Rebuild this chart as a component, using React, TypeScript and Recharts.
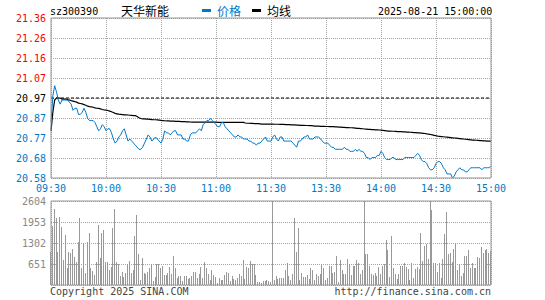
import React from 'react';
import { LineChart, Line, BarChart, Bar, XAxis, YAxis, CartesianGrid, ReferenceLine } from 'recharts';

const MONO = '"DejaVu Sans Mono", "Liberation Mono", monospace';
const CJK = '"Noto Sans CJK SC", sans-serif';
const RED = '#ff0000';
const BLUE = '#0078c8';
const GRAY = '#999999';
const GRID = '#a4a4a4';

const code = 'sz300390';
const stockName = '天华新能';
const legendNames = ['价格', '均线'];
const stamp = '2025-08-21 15:00:00';
const copyright = 'Copyright 2025 SINA.COM';
const siteUrl = 'http://finance.sina.com.cn';

const prevClose = 20.97;
const priceMax = 21.36;
const priceMin = 20.58;
const priceLabels = ['21.36', '21.26', '21.16', '21.07', '20.97', '20.87', '20.77', '20.68', '20.58'];
const pctLabels = ['+1.86%', '+1.39%', '+0.93%', '+0.46%', '0.00%', '-0.46%', '-0.93%', '-1.39%', '-1.86%'];
const volMax = 2604;
const volTicks = [651, 1302, 1953, 2604];
const volLabels = ['651', '1302', '1953', '2604'];
const timeTicks = [0, 30, 60, 90, 120, 150, 180, 210, 240];
const timeLabels = ['09:30', '10:00', '10:30', '11:00', '11:30', '13:30', '14:00', '14:30', '15:00'];

const price = [
  20.85, 20.98, 21.03, 21.0, 20.96, 20.94, 20.96, 20.96, 20.96, 20.96,
  20.95, 20.94, 20.91, 20.92, 20.92, 20.89, 20.89, 20.9, 20.92, 20.9,
  20.87, 20.86, 20.86, 20.86, 20.85, 20.83, 20.81, 20.82, 20.84, 20.83,
  20.81, 20.82, 20.82, 20.8, 20.77, 20.75, 20.76, 20.78, 20.79, 20.81,
  20.82, 20.79, 20.76, 20.77, 20.76, 20.75, 20.74, 20.73, 20.72, 20.72,
  20.73, 20.75, 20.77, 20.79, 20.78, 20.76, 20.77, 20.78, 20.77, 20.76,
  20.75, 20.77, 20.81, 20.8, 20.8, 20.79, 20.8, 20.81, 20.81, 20.79,
  20.79, 20.79, 20.77, 20.77, 20.76, 20.76, 20.79, 20.8, 20.8, 20.8,
  20.81, 20.82, 20.81, 20.84, 20.85, 20.86, 20.86, 20.87, 20.86, 20.85,
  20.84, 20.83, 20.83, 20.85, 20.85, 20.83, 20.82, 20.81, 20.8, 20.79,
  20.78, 20.78, 20.79, 20.78, 20.78, 20.77, 20.77, 20.77, 20.76, 20.76,
  20.75, 20.75, 20.74, 20.75, 20.75, 20.76, 20.77, 20.78, 20.76, 20.76,
  20.76, 20.78, 20.79, 20.77, 20.76, 20.78, 20.78, 20.76, 20.76, 20.76,
  20.76, 20.76, 20.75, 20.74, 20.73, 20.76, 20.76, 20.77, 20.78, 20.78,
  20.79, 20.77, 20.77, 20.77, 20.78, 20.78, 20.78, 20.77, 20.76, 20.75,
  20.75, 20.75, 20.74, 20.73, 20.73, 20.72, 20.72, 20.72, 20.72, 20.72,
  20.73, 20.72, 20.72, 20.71, 20.71, 20.71, 20.72, 20.71, 20.72, 20.71,
  20.71, 20.7, 20.68, 20.68, 20.67, 20.68, 20.68, 20.68, 20.69, 20.69,
  20.71, 20.7, 20.68, 20.67, 20.67, 20.67, 20.68, 20.68, 20.67, 20.67,
  20.67, 20.67, 20.67, 20.68, 20.68, 20.68, 20.68, 20.68, 20.68, 20.69,
  20.7, 20.69, 20.67, 20.66, 20.66, 20.65, 20.63, 20.62, 20.62, 20.63,
  20.65, 20.66, 20.66, 20.65, 20.63, 20.62, 20.6, 20.6, 20.6, 20.58,
  20.59, 20.61, 20.62, 20.63, 20.62, 20.62, 20.61, 20.61, 20.62, 20.63,
  20.63, 20.63, 20.63, 20.63, 20.63, 20.62, 20.63, 20.63, 20.63, 20.63,
  20.64,
];

const avgPrice = [
  20.81, 20.9, 20.96, 20.97, 20.97, 20.97, 20.965, 20.965, 20.965, 20.962,
  20.96, 20.957, 20.955, 20.952, 20.95, 20.945, 20.943, 20.941, 20.938, 20.935,
  20.93, 20.928, 20.927, 20.925, 20.922, 20.92, 20.919, 20.917, 20.914, 20.912,
  20.911, 20.909, 20.906, 20.903, 20.899, 20.895, 20.893, 20.891, 20.89, 20.889,
  20.888, 20.888, 20.887, 20.886, 20.885, 20.884, 20.884, 20.88, 20.874, 20.87,
  20.868, 20.868, 20.867, 20.867, 20.866, 20.865, 20.864, 20.864, 20.863, 20.862,
  20.861, 20.86, 20.859, 20.858, 20.858, 20.857, 20.857, 20.857, 20.856, 20.856,
  20.856, 20.855, 20.855, 20.855, 20.854, 20.854, 20.853, 20.852, 20.852, 20.852,
  20.852, 20.852, 20.852, 20.852, 20.852, 20.852, 20.852, 20.852, 20.852, 20.852,
  20.852, 20.851, 20.851, 20.851, 20.851, 20.851, 20.851, 20.851, 20.851, 20.851,
  20.851, 20.851, 20.851, 20.851, 20.851, 20.851, 20.848, 20.847, 20.847, 20.846,
  20.846, 20.845, 20.845, 20.845, 20.844, 20.843, 20.843, 20.843, 20.843, 20.843,
  20.843, 20.843, 20.842, 20.842, 20.842, 20.841, 20.841, 20.841, 20.84, 20.84,
  20.84, 20.839, 20.839, 20.839, 20.838, 20.838, 20.837, 20.837, 20.837, 20.836,
  20.836, 20.835, 20.835, 20.834, 20.833, 20.833, 20.833, 20.832, 20.832, 20.832,
  20.831, 20.831, 20.83, 20.83, 20.83, 20.829, 20.829, 20.828, 20.828, 20.827,
  20.827, 20.826, 20.826, 20.825, 20.825, 20.824, 20.823, 20.822, 20.822, 20.821,
  20.82, 20.819, 20.818, 20.817, 20.817, 20.816, 20.816, 20.815, 20.815, 20.814,
  20.813, 20.812, 20.811, 20.81, 20.809, 20.809, 20.808, 20.808, 20.807, 20.806,
  20.806, 20.806, 20.805, 20.805, 20.804, 20.804, 20.803, 20.802, 20.801, 20.801,
  20.8, 20.8, 20.799, 20.798, 20.797, 20.795, 20.794, 20.792, 20.79, 20.788,
  20.786, 20.784, 20.783, 20.782, 20.781, 20.78, 20.779, 20.778, 20.777, 20.776,
  20.775, 20.774, 20.773, 20.772, 20.771, 20.77, 20.769, 20.768, 20.767, 20.766,
  20.765, 20.765, 20.764, 20.763, 20.762, 20.762, 20.761, 20.761, 20.76, 20.76,
  20.76,
];

const volume = [
  1033, 1829, 2366, 2087, 1033, 2118, 1808, 785, 1560, 537,
  1033, 981, 1126, 878, 723, 1343, 2087, 537, 1312, 382,
  1343, 1622, 537, 434, 320, 723, 1870, 847, 1622, 1705,
  723, 700, 475, 558, 1777, 2366, 700, 660, 279, 413,
  248, 372, 640, 744, 372, 475, 1519, 2159, 971, 165,
  847, 382, 330, 403, 537, 640, 124, 258, 660, 660,
  537, 589, 310, 310, 372, 568, 330, 909, 537, 227,
  289, 279, 124, 289, 289, 196, 227, 269, 413, 413,
  207, 351, 568, 227, 723, 537, 351, 145, 475, 310,
  258, 72, 227, 145, 145, 310, 403, 382, 124, 269,
  176, 145, 207, 351, 269, 785, 196, 558, 537, 744,
  640, 660, 310, 103, 83, 72, 124, 124, 145, 124,
  100, 3300, 165, 289, 176, 207, 227, 227, 455, 692,
  269, 145, 351, 2087, 1033, 1777, 165, 382, 258, 258,
  320, 176, 537, 455, 165, 351, 289, 351, 640, 537,
  145, 207, 578, 599, 382, 413, 888, 103, 764, 475,
  351, 351, 795, 640, 310, 599, 578, 785, 682, 351,
  475, 3300, 971, 950, 599, 351, 310, 382, 289, 558,
  330, 589, 660, 1384, 1074, 258, 1529, 537, 330, 196,
  351, 599, 599, 682, 558, 496, 165, 682, 227, 496,
  558, 486, 1622, 754, 1209, 1281, 795, 3300, 2314, 692,
  692, 413, 682, 227, 816, 1570, 2273, 971, 1002, 723,
  1126, 1281, 475, 640, 269, 372, 909, 909, 1095, 537,
  692, 517, 517, 868, 847, 1188, 1002, 1095, 1116, 1000,
  1060,
];

const data = price.map((p, i) => ({ t: i, price: p, avg: avgPrice[i], vol: volume[i] }));

const priceTicks = priceLabels.map(
  (_, i) => priceMax - (i * (priceMax - priceMin)) / (priceLabels.length - 1)
);

const labelColor = (i: number) => (i < 4 ? RED : i === 4 ? '#000' : BLUE);

const PriceTick = (props: any) => {
  const { x, y, payload, labels, anchor } = props;
  const i = priceTicks.findIndex((v) => Math.abs(v - payload.value) < 1e-6);
  return (
    <text x={x} y={y} dy={3.5} textAnchor={anchor} fontSize={10} fontFamily={MONO} fill={labelColor(i)}>
      {labels[i]}
    </text>
  );
};

const TimeTick = (props: any) => {
  const { x, y, payload } = props;
  const i = timeTicks.indexOf(payload.value);
  return (
    <text x={x} y={y} dy={14} textAnchor="middle" fontSize={10} fontFamily={MONO} fill={BLUE}>
      {timeLabels[i]}
    </text>
  );
};

const VolTick = (props: any) => {
  const { x, y, payload } = props;
  const i = volTicks.indexOf(payload.value);
  return (
    <text x={x} y={y} dy={3.5} textAnchor="end" fontSize={10} fontFamily={MONO} fill="#888">
      {volLabels[i]}
    </text>
  );
};

export default function App() {
  return (
    <div style={{ position: 'absolute', left: 0, top: 0, width: 545, height: 300, background: '#fff' }}>
      <div style={{ position: 'absolute', left: 0, top: 0 }}>
        <LineChart width={545} height={300} data={data} margin={{ top: 18, right: 0, bottom: 102, left: 0 }}>
          <CartesianGrid stroke={GRID} strokeDasharray="1 1" shapeRendering="crispEdges" />
          <XAxis
            dataKey="t"
            type="number"
            domain={[0, 240]}
            ticks={timeTicks}
            height={20}
            tickSize={0}
            tickMargin={0}
            axisLine={{ stroke: GRAY }}
            tickLine={false}
            interval={0}
            tick={(p: any) => <TimeTick {...p} />}
          />
          <YAxis
            yAxisId={0}
            type="number"
            domain={[priceMin, priceMax]}
            ticks={priceTicks}
            width={51}
            tickSize={0}
            tickMargin={5}
            axisLine={{ stroke: GRAY }}
            tickLine={false}
            interval={0}
            tick={(p: any) => <PriceTick {...p} labels={priceLabels} anchor="end" />}
          />
          <YAxis
            yAxisId="r"
            orientation="right"
            type="number"
            domain={[priceMin, priceMax]}
            ticks={priceTicks}
            width={54}
            tickSize={0}
            tickMargin={3}
            axisLine={{ stroke: GRAY }}
            tickLine={false}
            interval={0}
            tick={(p: any) => <PriceTick {...p} labels={pctLabels} anchor="start" />}
          />
          <ReferenceLine y={priceMax} stroke={GRAY} />
          <ReferenceLine y={prevClose} stroke="#000" strokeDasharray="3 2" />
          <Line
            dataKey="avg"
            type="linear"
            stroke="#000"
            strokeWidth={1.2}
            dot={false}
            activeDot={false}
            isAnimationActive={false}
          />
          <Line
            dataKey="price"
            type="linear"
            stroke={BLUE}
            strokeWidth={1}
            dot={false}
            activeDot={false}
            isAnimationActive={false}
          />
        </LineChart>
      </div>
      <div style={{ position: 'absolute', left: 0, top: 0 }}>
        <BarChart width={545} height={300} data={data} margin={{ top: 201, right: 54, bottom: 14, left: 0 }}>
          <XAxis
            dataKey="t"
            type="number"
            domain={[0, 240]}
            ticks={timeTicks}
            height={1}
            tick={false}
            tickLine={false}
            axisLine={{ stroke: GRAY }}
          />
          <YAxis
            type="number"
            domain={[0, volMax]}
            allowDataOverflow
            ticks={volTicks}
            width={51}
            tickSize={0}
            tickMargin={5}
            axisLine={{ stroke: GRAY }}
            tickLine={false}
            interval={0}
            tick={(p: any) => <VolTick {...p} />}
          />
          <Bar dataKey="vol" fill={GRAY} barSize={1} shapeRendering="crispEdges" isAnimationActive={false} />
          <CartesianGrid stroke={GRID} strokeDasharray="1 1" shapeRendering="crispEdges" />
          <ReferenceLine y={volMax} stroke={GRAY} />
          <ReferenceLine x={240} stroke={GRAY} />
        </BarChart>
      </div>
      <svg
        width={545}
        height={300}
        style={{ position: 'absolute', left: 0, top: 0, pointerEvents: 'none' }}
      >
        <text x={50} y={14.5} fontSize={10} fontFamily={MONO} fill="#000">{code}</text>
        <text x={121} y={16} fontSize={12} fontFamily={CJK} fill="#000">{stockName}</text>
        <rect x={202} y={9} width={9} height={3} fill={BLUE} />
        <text x={217} y={16} fontSize={12} fontFamily={CJK} fill={BLUE}>{legendNames[0]}</text>
        <rect x={252} y={9} width={9} height={3} fill="#000" />
        <text x={267} y={16} fontSize={12} fontFamily={CJK} fill="#000">{legendNames[1]}</text>
        <text x={378} y={14.5} fontSize={10} fontFamily={MONO} fill="#000">{stamp}</text>
        <text x={50} y={295} fontSize={10} fontFamily={MONO} fill="#444">{copyright}</text>
        <text x={491} y={295} textAnchor="end" fontSize={10} fontFamily={MONO} fill="#444">{siteUrl}</text>
      </svg>
    </div>
  );
}
